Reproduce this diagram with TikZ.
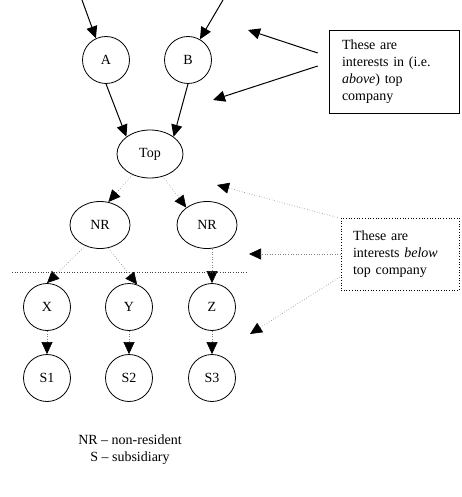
\documentclass[tikz,border=0pt]{standalone}
\usepackage{fontspec}
\setmainfont{Liberation Serif}
\usepackage{tikz}
\usetikzlibrary{arrows.meta, shapes.geometric}

\begin{document}
\begin{tikzpicture}[x=1pt, y=-1pt,
    every node/.style={font=\fontsize{14}{17}\selectfont},
    firm/.style={circle, draw, line width=0.8pt, minimum size=47pt, inner sep=0pt},
    oval/.style={ellipse, draw, line width=0.8pt, inner sep=0pt},
    notebox/.style={draw, align=left, inner ysep=0pt},
    solidarr/.style={line width=1pt, -{Triangle[length=12pt, width=11pt]}},
    dotarr/.style={gray, dotted, line width=0.6pt, -{Triangle[length=12pt, width=11pt, black]}}]
    % Page size
    \useasboundingbox (0,0) rectangle (461,497);

    % Holders of interests in the top company
    \node[firm] (A) at (106,60) {A};
    \node[firm] (B) at (188,60) {B};

    % Top company
    \node[oval, minimum width=66pt, minimum height=48pt] (Top) at (150,154) {Top};

    % Non-resident companies
    \node[oval, minimum width=60pt, minimum height=47pt] (NR1) at (100,225) {NR};
    \node[oval, minimum width=60pt, minimum height=47pt] (NR2) at (207,225) {NR};

    % Next level down
    \node[firm] (X) at (47,307) {X};
    \node[firm] (Y) at (129,307) {Y};
    \node[firm] (Z) at (212,307) {Z};

    % Subsidiaries
    \node[firm] (S1) at (47,378) {S1};
    \node[firm] (S2) at (129,378) {S2};
    \node[firm] (S3) at (212,378) {S3};

    % Note boxes
    \node[notebox, line width=0.6pt, text width=104pt, inner xsep=13pt, minimum height=83pt] (above) at (394,71.5)
        {These are\\ interests in (i.e.\\ \textit{above}) top\\ company};
    \node[notebox, dotted, line width=0.7pt, text width=94pt, inner xsep=12pt, minimum height=72pt] (below) at (400,254)
        {These are\\ interests \textit{below}\\ top company};

    % Legend
    \node[align=center] (legend) at (130,450) {NR \textendash{} non-resident\\ S \textendash{} subsidiary};

    % Loose ends
    \coordinate (inA) at (82,0);
    \coordinate (inB) at (223,0);
    \coordinate (aboveTipA) at (248,30);
    \coordinate (aboveTipB) at (213,100);
    \coordinate (belowTipA) at (217,185);
    \coordinate (belowTipB) at (249,254);
    \coordinate (belowTipC) at (250,334);
    \coordinate (cutL) at (12,272);
    \coordinate (cutR) at (247,272);

    % Interests above
    \draw[solidarr] (inA) -- (A.115);
    \draw[solidarr] (inB) -- (B.60);
    \draw[solidarr] (A.south) -- (Top.north west);
    \draw[solidarr] (B.south) -- (Top.north east);

    % Interests below
    \draw[dotarr] (Top.230) -- (NR1.70);
    \draw[dotarr] (Top.300) -- (NR2.140);
    \draw[dotarr] (NR1.235) -- (X.north);
    \draw[dotarr] (NR1.290) -- (Y.70);
    \draw[dotarr] (NR2.south -| Z.north) -- (Z.north);
    \draw[dotarr] (X.south) -- (S1.north);
    \draw[dotarr] (Y.south) -- (S2.north);
    \draw[dotarr] (Z.south) -- (S3.north);

    % Dividing line
    \draw[dotted, line width=0.6pt, darkgray] (cutL) -- (cutR);

    % Pointers from the notes
    \draw[solidarr] ([xshift=-11pt, yshift=18.5pt]above.west) -- (aboveTipA);
    \draw[solidarr] ([xshift=-11pt, yshift=5.5pt]above.west) -- (aboveTipB);
    \draw[dotarr] ([xshift=-3pt]below.north west) -- (belowTipA);
    \draw[dotarr] (below.west) -- (belowTipB);
    \draw[dotarr] ([xshift=-1pt, yshift=-23pt]below.west) -- (belowTipC);
\end{tikzpicture}
\end{document}
